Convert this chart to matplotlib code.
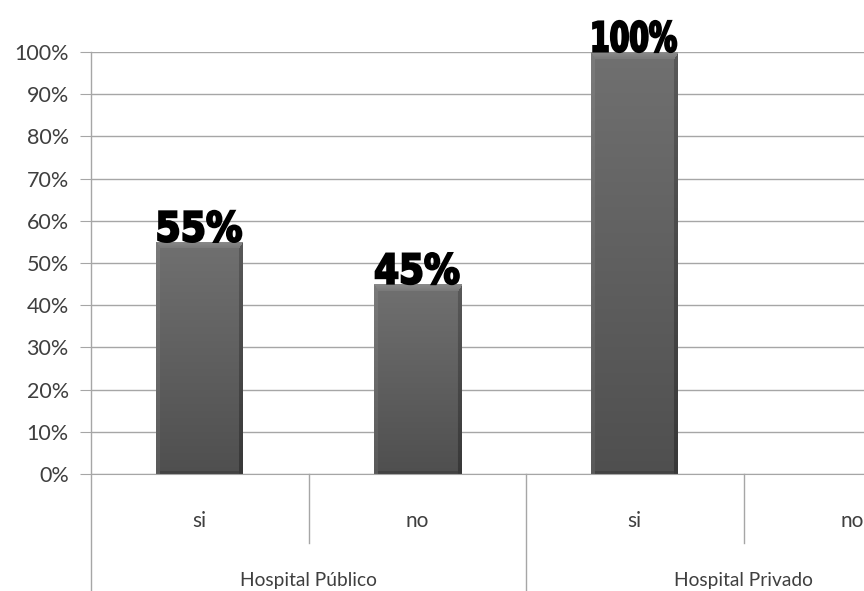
import numpy as np
import matplotlib.pyplot as plt
from matplotlib.patches import Rectangle, PathPatch
from matplotlib.textpath import TextPath
from matplotlib.font_manager import FontProperties
from matplotlib.transforms import Affine2D, ScaledTranslation

# categories and values (percent)
groups = ["Hospital Público", "Hospital Privado"]
answers = ["si", "no", "si", "no"]
values = [55, 45, 100, 0]
labels = ["55%", "45%", "100%", ""]
yticks = list(range(0, 101, 10))

grid_col = "#a6a6a6"
text_col = "#3f3f3f"

fig = plt.figure(figsize=(8.64, 5.91), dpi=100)
# plot area runs past the right edge of the figure
ax = fig.add_axes([91 / 864, 117 / 591, 870 / 864, 422 / 591])
ax.set_xlim(-0.5, 3.5)
ax.set_ylim(0, 100)

for s in ["top", "right", "left"]:
    ax.spines[s].set_visible(False)
ax.spines["bottom"].set_color(grid_col)

ax.set_yticks(yticks)
ax.set_yticklabels([f"{t}%" for t in yticks], fontsize=15.5, color=text_col, family="Lato")
ax.tick_params(axis="y", length=8, color=grid_col, pad=8)
ax.tick_params(axis="x", length=0, labelbottom=False)
ax.yaxis.grid(True, color=grid_col, lw=1)
ax.set_axisbelow(True)


def bevel_image(w, h):
    # gray bar face: vertical gradient plus bevelled top and sides
    yy, xx = np.mgrid[0:h, 0:w]
    g = 0.44 - 0.13 * yy / max(h - 1, 1)
    bev = 7
    top = (yy < bev) & (xx >= yy * 0.6) & (xx < w - yy * 0.6)
    g = np.where(top, 0.54 - 0.07 * yy / bev, g)
    left = (xx < 4) & ~top
    right = (xx >= w - 4) & ~top
    g = np.where(left, g + 0.04, g)
    g = np.where(right, g - 0.09, g)
    g = np.where((yy >= h - 3) & ~left & ~right, g - 0.05, g)
    return np.dstack([g, g, g])


width = 0.4
px_x = 870 / 4
px_y = 422 / 100
prop = FontProperties(family="DejaVu Sans", weight="bold")
box_w, box_h = 83, 31
for i, v in enumerate(values):
    if v <= 0:
        continue
    x0 = i - width / 2
    rect = Rectangle((x0, 0), width, v, facecolor="#555555", edgecolor="none", zorder=2)
    ax.add_patch(rect)
    img = bevel_image(int(round(width * px_x)), int(round(v * px_y)))
    im = ax.imshow(img, extent=(x0, x0 + width, 0, v), aspect="auto",
                   zorder=2.5, interpolation="bilinear")
    im.set_clip_path(rect)

    # heavy value label, squeezed to a narrow box above the bar
    tp = TextPath((0, 0), labels[i], size=1, prop=prop)
    ext = tp.get_extents()
    tr = (Affine2D().translate(-(ext.x0 + ext.x1) / 2, -ext.y0)
          .scale(box_w / ext.width, box_h / ext.height)
          + ScaledTranslation(i, v, ax.transData))
    ax.add_patch(PathPatch(tp, transform=tr, facecolor="black", edgecolor="black",
                           lw=1.6, zorder=4, clip_on=False))

# category axis: left line, dividers and labels
tr = ax.get_xaxis_transform()
ax.plot([-0.5, -0.5], [-0.277, 1.0], color=grid_col, lw=1, transform=tr, clip_on=False)
for xd, yb in [(0.5, -0.164), (1.5, -0.277), (2.5, -0.164)]:
    ax.plot([xd, xd], [0, yb], color=grid_col, lw=1, transform=tr, clip_on=False)
for i, a in enumerate(answers):
    ax.text(i, -0.111, a, ha="center", va="center", fontsize=15, color=text_col,
            family="Lato", transform=tr, clip_on=False)
for g, gx in zip(groups, [0.5, 2.5]):
    ax.text(gx, -0.252, g, ha="center", va="center", fontsize=13.8, color=text_col,
            family="Lato", transform=tr, clip_on=False)

fig.savefig("out.png", dpi=100)
